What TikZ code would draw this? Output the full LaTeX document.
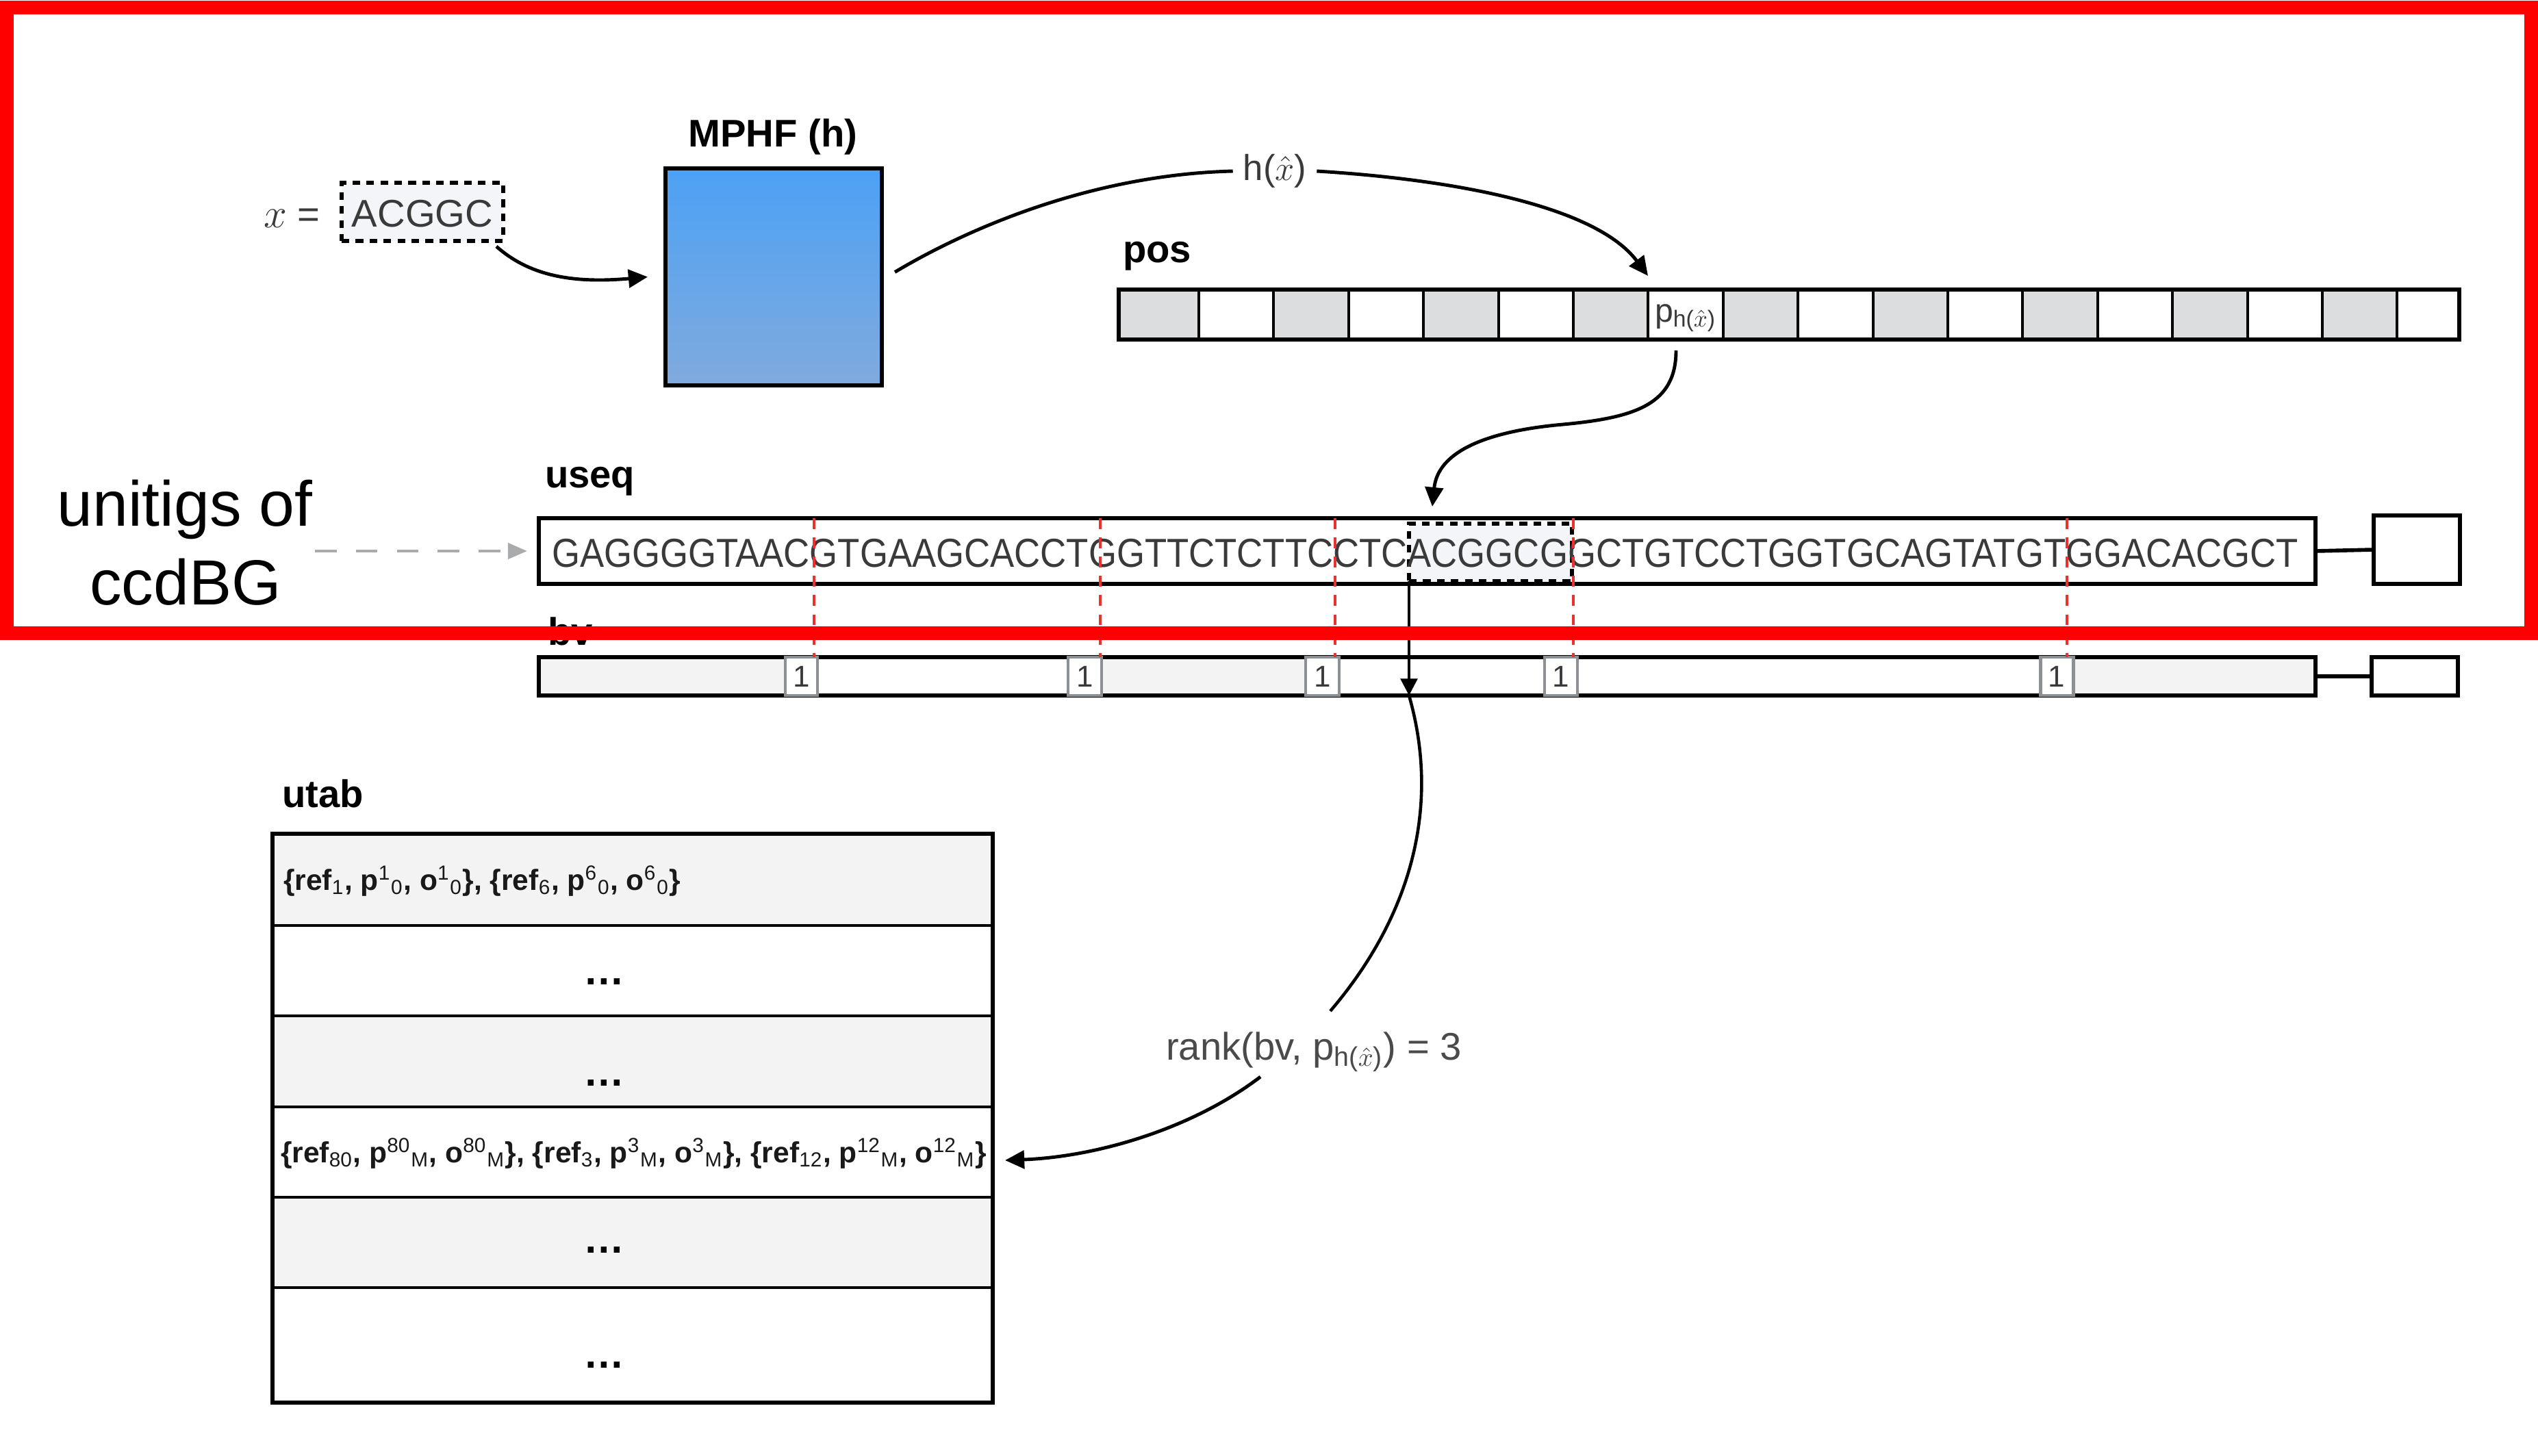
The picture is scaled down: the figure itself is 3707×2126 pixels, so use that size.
\documentclass[tikz,border=0pt]{standalone}
\usepackage{fontspec}
\usepackage{graphicx}
\setmainfont{Liberation Sans}
\usetikzlibrary{arrows.meta,fit,calc}
\definecolor{posgray}{HTML}{DCDDDF}
\definecolor{lgray}{HTML}{F3F3F3}
\definecolor{kgray}{HTML}{F4F5F8}
\definecolor{txtgray}{HTML}{3A3A3A}
\definecolor{rankgray}{HTML}{4A4A4A}
\definecolor{onegray}{HTML}{8C8F94}
\definecolor{dashgray}{HTML}{A9ABAD}
\definecolor{redline}{HTML}{E8322E}
\definecolor{blueTop}{HTML}{4CA1F5}
\definecolor{blueBot}{HTML}{80AADE}
\newcommand\mysub[1]{\textsubscript{\mdseries #1}}
\newcommand\mysup[1]{\textsuperscript{\mdseries #1}}
\begin{document}
\begin{tikzpicture}[x=0.1mm,y=-0.1mm,
  every node/.style={inner sep=0pt, outer sep=0pt},
  lab/.style={font=\fontsize{16}{19}\selectfont\bfseries, anchor=base west},
  arr/.style={line width=1.4pt, -{Triangle[length=8pt,width=7.5pt]}},
  arrthin/.style={line width=1.1pt, -{Triangle[length=7pt,width=7pt]}},
  kdash/.style={draw=black, line width=1.6pt, dash pattern=on 3.2pt off 2.6pt, fill=kgray},
  redv/.style={draw=redline, line width=0.9pt, dash pattern=on 4.5pt off 3.5pt},
  onecell/.style={draw=onegray, line width=1.4pt, fill=white},
  onetxt/.style={font=\fontsize{12.5}{14}\selectfont, text=txtgray},
  graydash/.style={draw=dashgray, line width=1.4pt, dash pattern=on 9pt off 8pt, -{Triangle[length=8pt,width=6.5pt]}},
  rowtxt/.style={font=\fontsize{12.1}{14}\selectfont\bfseries, text=black!90, anchor=west},
  dotsn/.style={font=\fontsize{17}{20}\selectfont\bfseries, anchor=base}]
\useasboundingbox[fill=white] (0,0) rectangle (3707,2126);

% query k-mer
\node[anchor=base west, font=\fontsize{16}{19}\selectfont, text=txtgray] (xlab) at (385,333) {$x$ =};
\node[kdash, fit={(499,267)(735,352)}] (xbox) {};
\node[font=\fontsize{16}{19}\selectfont, text=txtgray] (xtext) at ([yshift=-0.3mm]xbox.center) {ACGGC};

% MPHF
\node[fit={(972,246)(1288,563)}, draw, line width=1.6pt, top color=blueTop, bottom color=blueBot] (mphf) {};
\node[lab, anchor=base] (mphflab) at (1129,215) {MPHF (h)};
\draw[arr] ([xshift=-1mm,yshift=-0.8mm]xbox.south east) .. controls (770,400) and (830,415) .. ([xshift=-2.6mm]mphf.west);

% pos
\node[lab] (poslab) at (1640,384) {pos};
\foreach \i/\a/\b/\f in {0/1634/1751/posgray,1/1751/1860/white,2/1860/1970/posgray,3/1970/2079/white,4/2079/2189/posgray,5/2189/2298/white,6/2298/2407/posgray,7/2407/2517/white,8/2517/2626/posgray,9/2626/2736/white,10/2736/2845/posgray,11/2845/2954/white,12/2954/3064/posgray,13/3064/3173/white,14/3173/3283/posgray,15/3283/3392/white,16/3392/3501/posgray,17/3501/3592/white}
  \node[fit={(\a,423)(\b,496)}, fill=\f, draw, line width=0.9pt] (c\i) {};
\node[fit={(1634,423)(3592,496)}, draw, line width=1.8pt] (pos) {};
\node[anchor=base west, font=\fontsize{13.7}{16}\selectfont, text=txtgray] (pval) at (2417,470) {p\textsubscript{h($\hat{x}$)}};

% h arrow
\node[font=\fontsize{15}{18}\selectfont, text=txtgray, inner xsep=1.5mm] (hlab) at (1862,250) {h($\hat{x}$)};
\draw[line width=1.4pt] ([xshift=1.9mm,yshift=0.7mm]mphf.east) .. controls (1420,330) and (1600,255) .. (hlab.west);
\draw[arr] (hlab.east) .. controls (2120,262) and (2330,300) .. ([yshift=2mm]c7.north west);

% useq
\node[lab] (useqlab) at (796,712) {useq};
\node[fit={(787,757)(3382,853)}, draw, line width=1.6pt, fill=white] (useq) {};
\node[fit={(3467,753)(3593,853)}, draw, line width=1.6pt] (useqend) {};
\draw[line width=1.6pt] (useq.east) -- (useqend.west);
\node[kdash, fit={(2058,765)(2296,849)}] (kmer) {};
\node[anchor=base west, font=\fontsize{15}{18}\selectfont, text=txtgray] (seq) at (806,828) {\scalebox{1}[1.12]{GAGGGGTAACGTGAAGCACCTGGTTCTCTTCCTCACGGCGGCTGTCCTGGTGCAGTATGTGGACACGCT}};

% pos -> useq arrow
\draw[arr] ([xshift=-1.4mm,yshift=-1.6mm]c7.south) .. controls (2448,590) and (2390,610) .. (2283,620) .. controls (2170,630) and (2100,660) .. ([xshift=3.4mm,yshift=2.5mm]kmer.north west);

% bv
\node[lab] (bvlab) at (800,942) {bv};
\foreach \a/\b/\f in {788/1147/lgray,1194/1560/white,1609/1907/lgray,1956/2256/white,2304/2980/white,3028/3382/lgray}
  \fill[\f] (\a,960) rectangle (\b,1016);
\node[fit={(787,960)(3382,1016)}, draw, line width=1.5pt] (bv) {};
\foreach \i/\a/\b in {1/1147/1194,2/1560/1609,3/1907/1956,4/2256/2304,5/2980/3028}{
  \node[onecell, fit={(\a,960)(\b,1016)}] (one\i) {};
  \node[onetxt] (onet\i) at (one\i.center) {1};
}
\node[fit={(3464,960)(3590,1016)}, draw, line width=1.5pt] (bvend) {};
\draw[line width=1.5pt] (bv.east) -- (bvend.west);

% red unitig boundaries
\foreach \x in {1189,1607,1950,2298,3019}
  \draw[redv] (\x,757) -- (\x,960);

% kmer -> bv
\draw[arrthin] (kmer.south west) -- (kmer.south west |- bv.south) coordinate (bvhit);

% unitigs label
\node[font=\fontsize{26.5}{30}\selectfont, anchor=base] (unitigs1) at (270,768) {unitigs of};
\node[font=\fontsize{26.5}{30}\selectfont, anchor=base] (unitigs2) at (271,883) {ccdBG};
\coordinate (gstart) at (460,805);
\draw[graydash] (gstart) -- ([xshift=-1.7mm]useq.west);

% utab
\node[lab] (utablab) at (412,1179) {utab};
\foreach \i/\a/\b/\f in {1/1218/1352/lgray,2/1352/1484/white,3/1484/1617/lgray,4/1617/1749/white,5/1749/1881/lgray,6/1881/2049/white}
  \node[fit={(398,\a)(1450,\b)}, fill=\f, draw, line width=1.2pt] (r\i) {};
\node[fit={(398,1218)(1450,2049)}, draw, line width=1.6pt] (utab) {};
\node[rowtxt] (t1) at (414,1287) {\{ref\mysub{1}, p\mysup{1}\mysub{0}, o\mysup{1}\mysub{0}\}, \{ref\mysub{6}, p\mysup{6}\mysub{0}, o\mysup{6}\mysub{0}\}};
\node[rowtxt] (t4) at (410,1685) {\{ref\mysub{80}, p\mysup{80}\mysub{M}, o\mysup{80}\mysub{M}\}, \{ref\mysub{3}, p\mysup{3}\mysub{M}, o\mysup{3}\mysub{M}\}, \{ref\mysub{12}, p\mysup{12}\mysub{M}, o\mysup{12}\mysub{M}\}};
\foreach \i/\y in {2/1438,3/1586,5/1830,6/1998}
  \node[dotsn] (d\i) at (882,\y) {…};

% rank
\node[anchor=base west, font=\fontsize{16}{19}\selectfont, text=rankgray] (rank) at (1703,1548) {rank(bv, p\textsubscript{h($\hat{x}$)}) = 3};
\coordinate (rankin) at (1943,1477);
\coordinate (rankout) at (1841,1573);
\draw[line width=1.3pt] (bvhit) .. controls (2105,1180) and (2060,1340) .. (rankin);
\draw[arr] (rankout) .. controls (1740,1650) and (1600,1690) .. ([xshift=1.8mm,yshift=-1.2mm]r4.east);

% red frame
\draw[red, line width=5.7pt] (10,11) rectangle (3697,925);
\end{tikzpicture}
\end{document}
